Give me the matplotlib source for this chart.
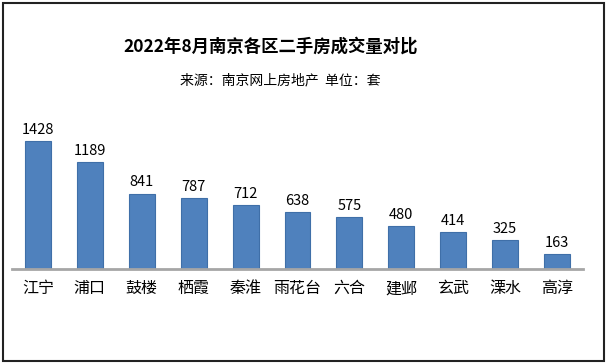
import matplotlib
matplotlib.use("Agg")
import matplotlib.pyplot as plt
from matplotlib.patches import Rectangle

plt.rcParams['font.family'] = ['Noto Sans CJK SC', 'DejaVu Sans']

districts = ["江宁", "浦口", "鼓楼", "栖霞", "秦淮", "雨花台", "六合", "建邺", "玄武", "溧水", "高淳"]
volumes = [1428, 1189, 841, 787, 712, 638, 575, 480, 414, 325, 163]
title = "2022年8月南京各区二手房成交量对比"
subtitle = "来源：南京网上房地产  单位：套"

W, H = 607, 364
fig = plt.figure(figsize=(W / 100, H / 100), dpi=100)

# axes: x from 12 to 583 px, baseline at 269 px, top at 129 px
ax = fig.add_axes([12 / W, (H - 269) / H, (583 - 12) / W, 140 / H])
x = list(range(len(districts)))
ax.bar(x, volumes, width=0.5, color="#4F81BD", edgecolor="#3F6FA8", linewidth=0.8)
ax.set_xlim(-0.5, len(districts) - 0.5)
ax.set_ylim(0, 1428 * 140 / 128)
for s in ["top", "right", "left"]:
    ax.spines[s].set_visible(False)
ax.spines["bottom"].set_color("#A6A6A6")
ax.spines["bottom"].set_linewidth(2)
ax.set_yticks([])
ax.set_xticks(x)
ax.set_xticklabels(districts, fontsize=11.5)
ax.tick_params(axis="x", length=0, pad=8)
for xi, v in zip(x, volumes):
    ax.annotate(str(v), (xi, v), xytext=(0, 3), textcoords="offset points",
                ha="center", va="bottom", fontsize=10.5)

fig.text(271 / W, 1 - 47 / H, title, ha="center", va="center", fontsize=12.5, fontweight="bold")
fig.text(280 / W, 1 - 80 / H, subtitle, ha="center", va="center", fontsize=10)

fig.add_artist(Rectangle((3 / W, 3 / H), (W - 6) / W, (H - 6) / H, transform=fig.transFigure,
                         fill=False, edgecolor="#222222", linewidth=1.5))

fig.savefig("out.png", dpi=100)
